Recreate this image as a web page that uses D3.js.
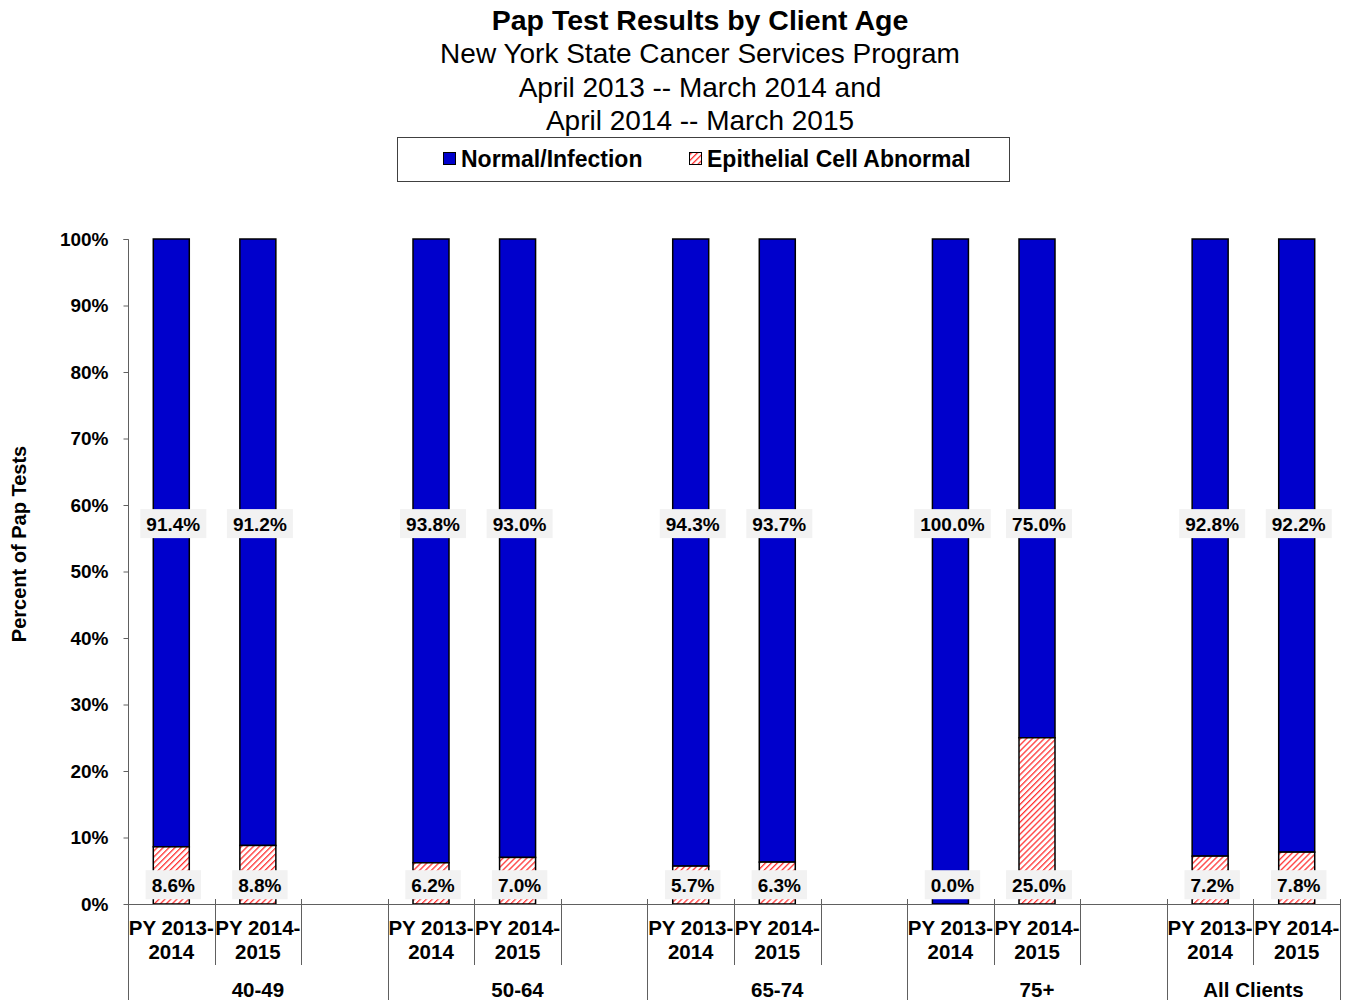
<!DOCTYPE html>
<html><head><meta charset="utf-8">
<script src="https://cdn.jsdelivr.net/npm/d3@7"></script>
<style>body{margin:0;background:#fff;} svg{display:block;font-family:"Liberation Sans",Arial,sans-serif;}</style>
</head><body>
<script>
const categories = ["40-49","50-64","65-74","75+","All Clients"];
const years = ["PY 2013-2014","PY 2014-2015"];
const normal = [91.4,91.2,93.8,93.0,94.3,93.7,100.0,75.0,92.8,92.2];
const abnormal = [8.6,8.8,6.2,7.0,5.7,6.3,0.0,25.0,7.2,7.8];
const yTicks = [0,10,20,30,40,50,60,70,80,90,100];
const seriesNames = ["Normal/Infection","Epithelial Cell Abnormal"];
const titleLines = ["Pap Test Results by Client Age","New York State Cancer Services Program","April 2013 -- March 2014 and","April 2014 -- March 2015"];

const W=1354,H=1000;
const svg=d3.select("body").append("svg").attr("width",W).attr("height",H);
const defs=svg.append("defs");
const pat=defs.append("pattern").attr("id","hatch").attr("patternUnits","userSpaceOnUse")
  .attr("width",4.2).attr("height",4.2).attr("patternTransform","rotate(45)");
pat.append("rect").attr("width",4.2).attr("height",4.2).attr("fill","#fff");
pat.append("rect").attr("x",0).attr("width",1.3).attr("height",4.2).attr("fill","#ff3333");

const BLUE="#0000cc";
const slots=[];
categories.forEach((c,ci)=>{
  years.forEach(y=>slots.push(c+"|"+y));
  if(ci<categories.length-1) slots.push(c+"|blank");
});
const x=d3.scaleBand().domain(slots).range([128,1340]).paddingInner(0).paddingOuter(0);
const y=d3.scaleLinear().domain([0,100]).range([904,239]);

const data=[];
categories.forEach((c,ci)=>years.forEach((yr,yi)=>{
  const i=ci*2+yi;
  data.push({cat:c,year:yr,key:c+"|"+yr,normal:normal[i],abnormal:abnormal[i]});
}));

// title
const tg=svg.append("g");
const titleY=[30,63,97,130];
titleLines.forEach((t,i)=>{
  tg.append("text").attr("x",700).attr("y",titleY[i]).attr("text-anchor","middle")
    .attr("font-size",i===0?28.5:28).attr("font-weight",i===0?"bold":"normal").attr("fill","#000").text(t);
});

// legend
const lg=svg.append("g");
lg.append("rect").attr("x",397.5).attr("y",137.5).attr("width",612).attr("height",44).attr("fill","#fff").attr("stroke","#404040").attr("stroke-width",1);
const legItems=[{x:443,fill:BLUE},{x:689,fill:"url(#hatch)"}];
legItems.forEach((d,i)=>{
  lg.append("rect").attr("x",d.x+0.5).attr("y",152.5).attr("width",12).attr("height",12).attr("fill",d.fill).attr("stroke","#000").attr("stroke-width",1);
  lg.append("text").attr("x",d.x+18).attr("y",167).attr("font-size",23).attr("font-weight","bold").text(seriesNames[i]);
});

// y axis
const yAxis=d3.axisLeft(y).tickValues(yTicks).tickSize(5).tickFormat(d=>d+"%");
const ya=svg.append("g").attr("transform","translate(128.5,0)").call(yAxis);
ya.select(".domain").attr("stroke","#606060").attr("d","M-5,239.5H0V904.5");
ya.selectAll(".tick line").attr("stroke","#606060");
ya.selectAll(".tick text").attr("x",-20).attr("font-size",19).attr("font-weight","bold").attr("fill","#000").attr("font-family","Liberation Sans, Arial, sans-serif");

svg.append("text").attr("transform","translate(26,544) rotate(-90)").attr("text-anchor","middle")
  .attr("font-size",20).attr("font-weight","bold").text("Percent of Pap Tests");

// bars
const bw=36;
const bars=svg.append("g");
data.forEach(d=>{
  const cx=x(d.key)+x.bandwidth()/2;
  bars.append("rect").attr("x",cx-bw/2).attr("y",y(d.abnormal+d.normal)).attr("width",bw)
    .attr("height",y(d.abnormal)-y(d.abnormal+d.normal)).attr("fill",BLUE).attr("stroke","#000").attr("stroke-width",1.5);
  bars.append("rect").attr("x",cx-bw/2).attr("y",y(d.abnormal)).attr("width",bw)
    .attr("height",y(0)-y(d.abnormal)).attr("fill","url(#hatch)").attr("stroke","#000").attr("stroke-width",1.5);
});

// x axis
const xa=svg.append("g");
xa.append("line").attr("x1",128).attr("x2",1340).attr("y1",904.5).attr("y2",904.5).attr("stroke","#606060");
slots.forEach((s,i)=>{
  const xx=Math.round(x(s))+0.5;
  const isGroupStart = i===0 || s.split("|")[0]!==slots[i-1].split("|")[0];
  xa.append("line").attr("x1",xx).attr("x2",xx).attr("y1",i===0?904:899).attr("y2",isGroupStart?1000:965).attr("stroke","#606060");
});
{ const xx=1340.5; xa.append("line").attr("x1",xx).attr("x2",xx).attr("y1",899).attr("y2",1000).attr("stroke","#606060"); }
data.forEach(d=>{
  const cx=x(d.key)+x.bandwidth()/2;
  const parts=d.year.split("-");
  xa.append("text").attr("x",cx).attr("y",935).attr("text-anchor","middle").attr("font-size",20.5).attr("font-weight","bold").text(parts[0]+"-");
  xa.append("text").attr("x",cx).attr("y",959).attr("text-anchor","middle").attr("font-size",20.5).attr("font-weight","bold").text(parts[1]);
});
categories.forEach(c=>{
  const ks=slots.filter(s=>s.split("|")[0]===c);
  const cx=(x(ks[0])+x(ks[ks.length-1])+x.bandwidth())/2;
  xa.append("text").attr("x",cx).attr("y",997).attr("text-anchor","middle").attr("font-size",20.5).attr("font-weight","bold").text(c);
});

// data labels
const lab=svg.append("g");
function label(cx,cy,txt){
  const t=lab.append("text").attr("x",cx+2).attr("y",cy+7).attr("text-anchor","middle").attr("font-size",19).attr("font-weight","bold").text(txt);
  const bb=t.node().getBBox();
  lab.insert("rect","text").attr("x",bb.x-6).attr("y",cy-14.5).attr("width",bb.width+12).attr("height",29).attr("fill","#f2f2f2");
}
data.forEach(d=>{
  const cx=x(d.key)+x.bandwidth()/2;
  label(cx,y(57.2),d.normal.toFixed(1)+"%");
  label(cx,y(2.9),d.abnormal.toFixed(1)+"%");
});
</script>
</body></html>
